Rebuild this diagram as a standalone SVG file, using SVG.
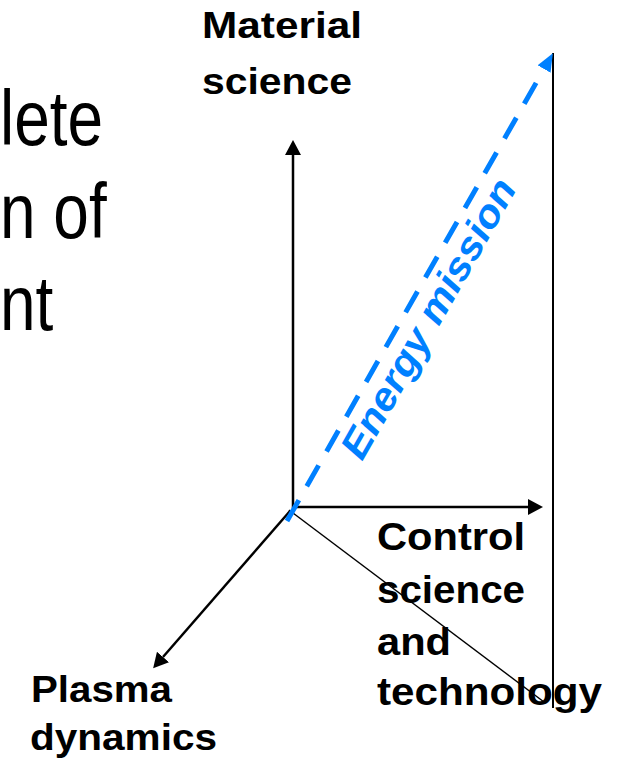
<svg xmlns="http://www.w3.org/2000/svg" width="620" height="765" viewBox="0 0 620 765">
  <style>
    .bg { font-family: "Liberation Sans", Arial, sans-serif; font-size: 78px; fill: #000; }
    .lbl { font-family: "Liberation Sans", Arial, sans-serif; font-weight: bold; fill: #000; }
    .em { font-family: "Liberation Sans", Arial, sans-serif; font-weight: bold; font-style: italic; fill: #0080FF; font-size: 39px; }
    .axis { stroke: #000; stroke-width: 2.5; fill: none; }
    .thin { stroke: #000; stroke-width: 1.5; fill: none; }
    .edge { stroke: #000; stroke-width: 2; fill: none; }
    .energy { stroke: #0080FF; stroke-width: 5; fill: none; stroke-dasharray: 24 16; }
  </style>
  <defs>
    <marker id="ah" markerUnits="userSpaceOnUse" viewBox="0 0 15 16" markerWidth="15" markerHeight="16" refX="0" refY="8" orient="auto">
      <path d="M0,0 L15,8 L0,16 z" fill="#000"/>
    </marker>
    <marker id="ahb" markerUnits="userSpaceOnUse" viewBox="0 0 18 15" markerWidth="18" markerHeight="15" refX="0" refY="7.5" orient="auto">
      <path d="M0,0 L18,7.5 L0,15 z" fill="#0080FF"/>
    </marker>
  </defs>

  <g id="slide-text" transform="scale(0.82 1)">
    <text class="bg" x="0" y="145">lete</text>
    <text class="bg" x="0" y="238">n of</text>
    <text class="bg" x="0" y="330">nt</text>
  </g>

  <g id="connectors">
    <line class="thin" x1="289" y1="510" x2="544" y2="702"/>
    <line class="edge" x1="553" y1="53" x2="553" y2="708"/>
    <line class="axis" x1="293" y1="508" x2="293" y2="155" marker-end="url(#ah)"/>
    <line class="axis" x1="292" y1="507" x2="528" y2="507" marker-end="url(#ah)"/>
    <line class="axis" x1="290" y1="511" x2="163" y2="657" marker-end="url(#ah)"/>
    <line class="energy" x1="287" y1="521" x2="544" y2="69" marker-end="url(#ahb)"/>
  </g>

  <g id="material-science">
    <text class="lbl" font-size="37" x="202" y="38" textLength="160" lengthAdjust="spacingAndGlyphs">Material</text>
    <text class="lbl" font-size="37" x="202" y="94" textLength="150" lengthAdjust="spacingAndGlyphs">science</text>
  </g>

  <g id="control-science">
    <text class="lbl" font-size="38" x="377" y="550" textLength="148" lengthAdjust="spacingAndGlyphs">Control</text>
    <text class="lbl" font-size="38" x="377" y="603" textLength="148" lengthAdjust="spacingAndGlyphs">science</text>
    <text class="lbl" font-size="38" x="377" y="655" textLength="74" lengthAdjust="spacingAndGlyphs">and</text>
    <text class="lbl" font-size="38" x="377" y="705" textLength="225" lengthAdjust="spacingAndGlyphs">technology</text>
  </g>

  <g id="plasma-dynamics">
    <text class="lbl" font-size="36" x="31" y="702" textLength="141" lengthAdjust="spacingAndGlyphs">Plasma</text>
    <text class="lbl" font-size="36" x="30" y="750" textLength="187" lengthAdjust="spacingAndGlyphs">dynamics</text>
  </g>

  <g id="energy-mission">
    <text class="em" transform="translate(362,462) rotate(-60.4)" x="0" y="0" textLength="315" lengthAdjust="spacingAndGlyphs">Energy mission</text>
  </g>
</svg>
